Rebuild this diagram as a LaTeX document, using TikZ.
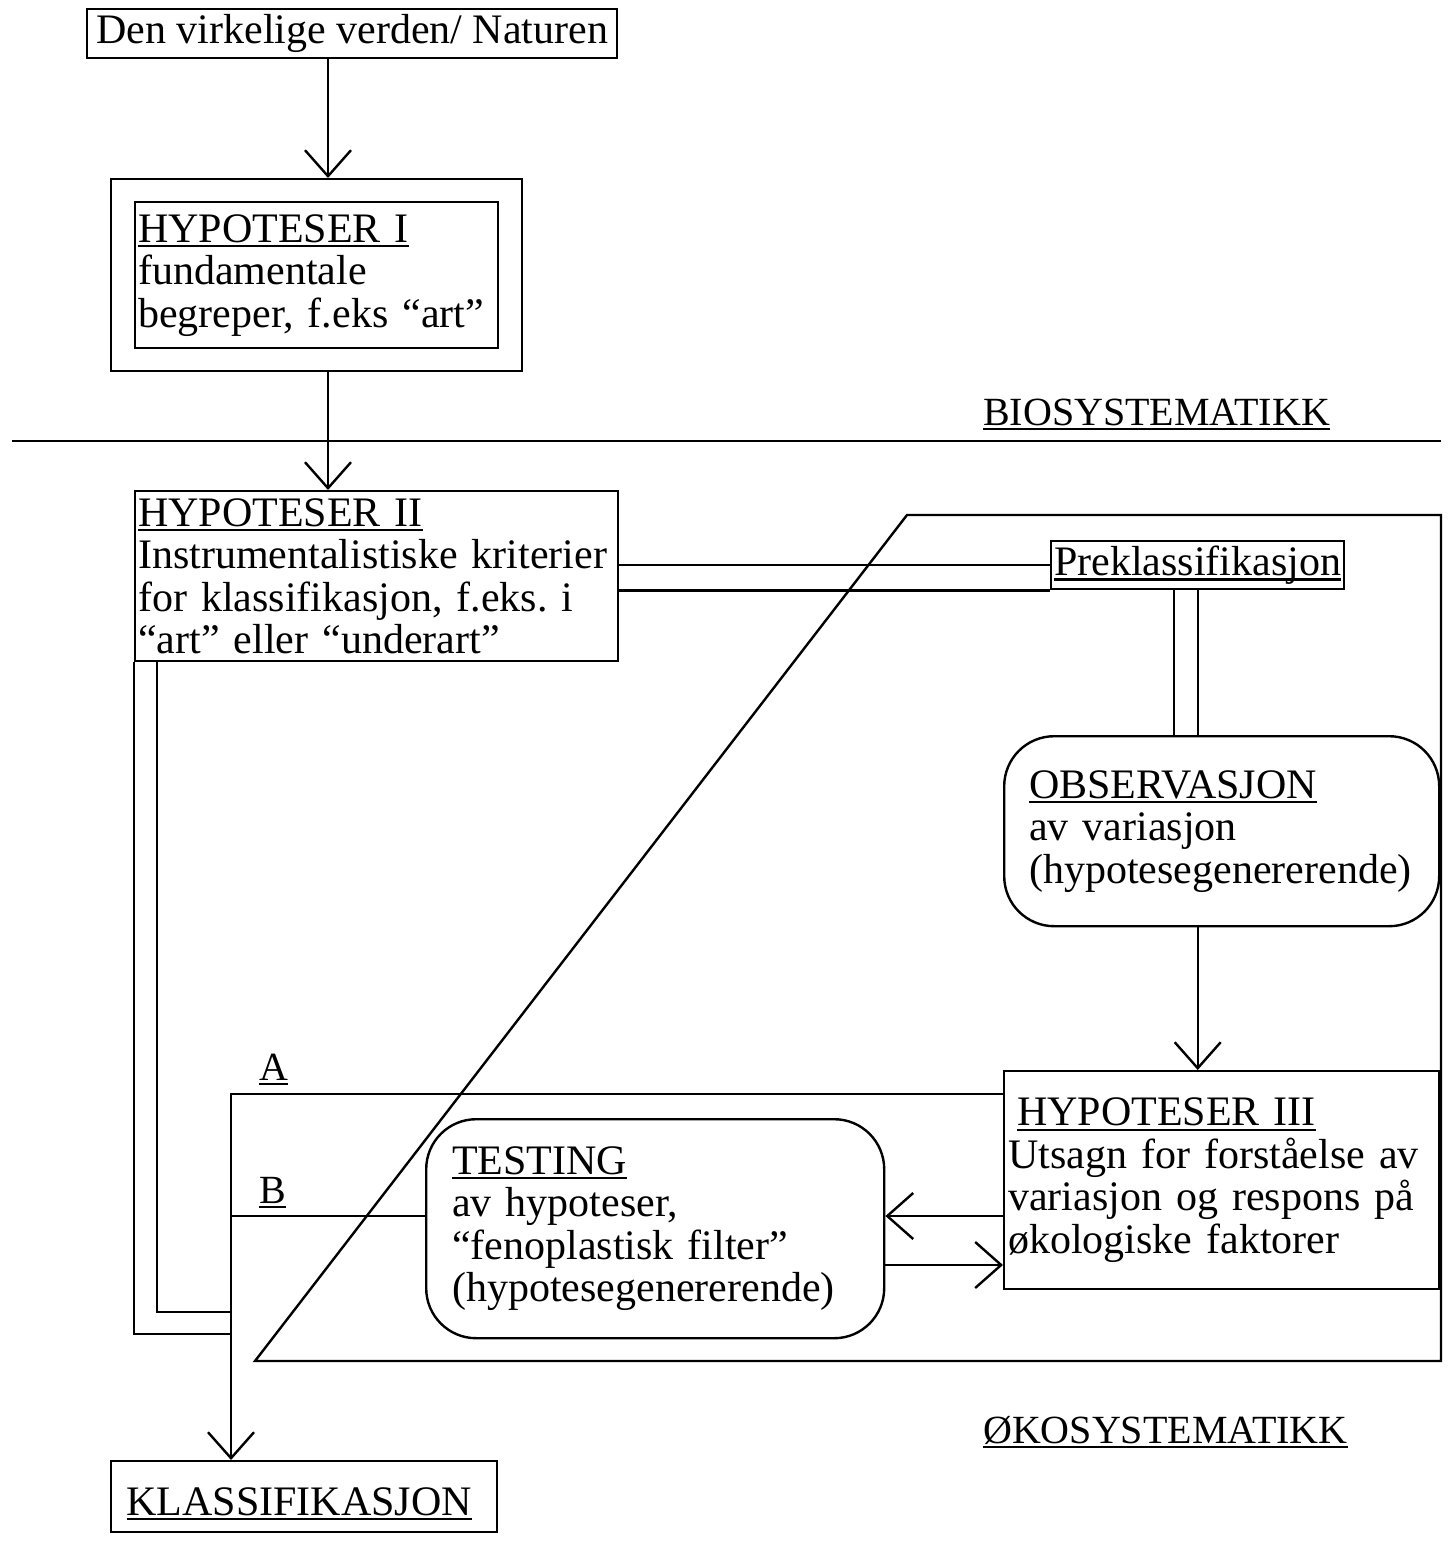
\documentclass[tikz,border=0pt]{standalone}
\usepackage{fontspec}
\setmainfont{Liberation Serif}
\usetikzlibrary{arrows.meta}
\hyphenpenalty=10000
\exhyphenpenalty=10000
\frenchspacing
\newsavebox\ulxbox
\newcommand\ulx[1]{\sbox\ulxbox{#1}\rlap{\rule[-5pt]{\wd\ulxbox}{2.2pt}}\usebox\ulxbox}
\begin{document}
\frenchspacing
\begin{tikzpicture}[x=1pt,y=-1pt,line width=2.4pt,
  every node/.style={font=\fontsize{42}{42.5}\selectfont},
  box/.style={draw, anchor=north west, inner ysep=0pt, inner xsep=0pt},
  tbox/.style={box, align=left},
  rbox/.style={tbox, rounded corners=50pt},
  lab/.style={anchor=base west, inner sep=0pt, font=\fontsize{40}{40}\selectfont},
  arr/.style={-{Straight Barb[length=26pt,width=46pt]}}]
\fill[white] (0,0) rectangle (1453,1551);
\useasboundingbox (0,0) rectangle (1453,1551);

% boxes
\node[box, minimum width=530pt, minimum height=49pt] (nat) at (86,8) {Den virkelige verden/ Naturen};
\node[box, minimum width=411pt, minimum height=192pt] (h1o) at (110,178) {};
\node[tbox, minimum width=363pt, minimum height=146pt, inner xsep=3pt, text width=357pt] (h1) at (134,201)
  {\ulx{HYPOTESER I}\\ fundamentale\\ begreper, f.eks “art”};
\node[tbox, minimum width=483pt, minimum height=170pt, inner xsep=3pt, text width=477pt] (h2) at (134,490)
  {\ulx{HYPOTESER II}\\ Instrumentalistiske kriterier\\ for klassifikasjon, f.eks. i\\ “art” eller “underart”};
\node[box, minimum width=293pt, minimum height=48pt] (prek) at (1050,540) {\ulx{Preklassifikasjon}};
\node[rbox, minimum width=435pt, minimum height=190pt, inner xsep=25pt, text width=385pt] (obs) at (1003,735)
  {\ulx{OBSERVASJON}\\ av variasjon\\ (hypotesegenererende)};
\node[tbox, minimum width=435pt, minimum height=218pt, inner xsep=4pt, text width=427pt] (h3) at (1003,1070)
  {\hspace*{9pt}\ulx{HYPOTESER III}\\ Utsagn for forståelse av\\ variasjon og respons på\\ økologiske faktorer};
\node[rbox, minimum width=458pt, minimum height=219pt, inner xsep=26pt, text width=406pt] (test) at (425,1118)
  {\ulx{TESTING}\\ av hypoteser,\\ “fenoplastisk filter”\\ (hypotesegenererende)};
\node[box, minimum width=386pt, minimum height=71pt, text height=44pt, text depth=7pt] (klass) at (110,1460) {\ulx{KLASSIFIKASJON}\hspace*{10pt}};

% labels
\node[lab] (bio) at (982,425) {\ulx{BIOSYSTEMATIKK}};
\node[lab] (oko) at (982,1443) {\ulx{ØKOSYSTEMATIKK}};
\node[lab] (la) at (258,1080) {\ulx{A}};
\node[lab] (lb) at (258,1203) {\ulx{B}};

% helper coordinates
\coordinate (cx) at (328,0);
\coordinate (cv) at (231,0);
\coordinate (divL) at (12,441);
\coordinate (divR) at (1441,441);
\coordinate (ya) at (0,1094);
\coordinate (yb) at (0,1216);
\coordinate (yc) at (0,1265);
\coordinate (yo) at (0,1334);
\coordinate (yi) at (0,1312);
\coordinate (q1) at (255,1361);
\coordinate (q2) at (907,515);
\coordinate (q3) at (1441,515);
\coordinate (q4) at (1441,1361);
\coordinate (pl) at ([xshift=-24pt]prek.south);
\coordinate (hin) at ([xshift=23pt]h2.south west);

% connectors
\draw[arr] (nat.south -| cx) -- (h1o.north -| cx);
\draw[arr] (h1o.south -| cx) -- (h2.north -| cx);
\draw (divL) -- (divR);
\draw (h2.east |- prek.west) -- (prek.west);
\draw (h2.east |- prek.south west) -- (prek.south west);
\draw (prek.south) -- (obs.north -| prek.south);
\draw (pl) -- (obs.north -| pl);
\draw[arr] (obs.south -| prek.south) -- (h3.north -| prek.south);
\draw (q1) -- (q2) -- (q3) -- (q4) -- cycle;
\draw[arr] (h3.west |- ya) -- (cv |- ya) -- (cv |- klass.north);
\draw (test.west |- yb) -- (cv |- yb);
\draw[arr] (h3.west |- yb) -- (test.east |- yb);
\draw[arr] (test.east |- yc) -- (h3.west |- yc);
\draw (h2.south west) -- (h2.south west |- yo) -- (cv |- yo);
\draw (hin) -- (hin |- yi) -- (cv |- yi);
\end{tikzpicture}
\end{document}
